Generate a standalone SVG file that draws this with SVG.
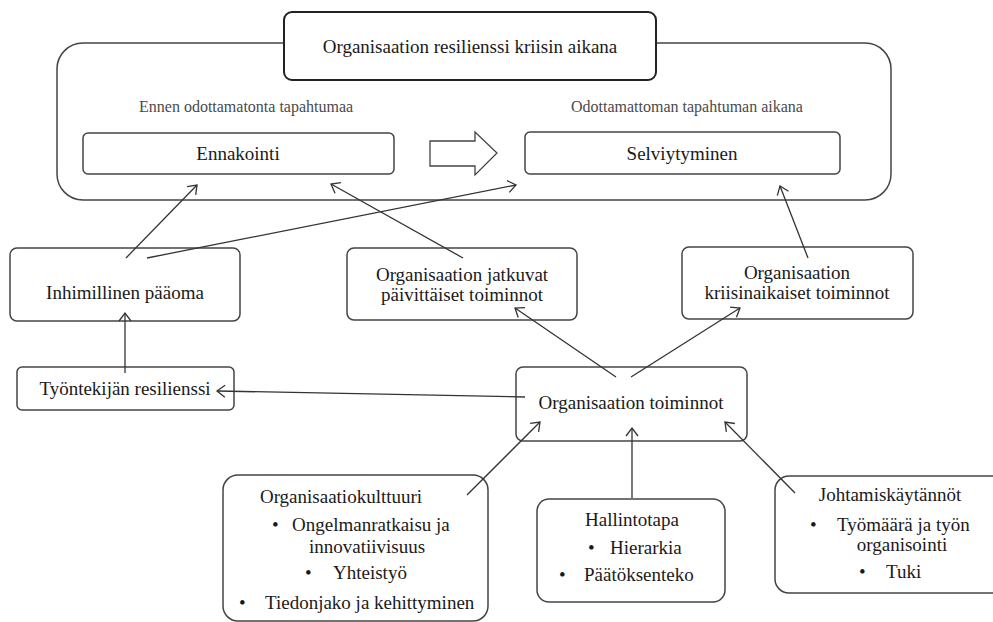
<svg xmlns="http://www.w3.org/2000/svg" width="993" height="622" viewBox="0 0 993 622">
<defs>
<style>
.box{fill:#fff;stroke:#444;stroke-width:1.5}
.t{font-family:'Liberation Serif','Times New Roman',serif;font-size:19px;fill:#1a1a1a;text-anchor:middle}
.s{font-family:'Liberation Serif','Times New Roman',serif;font-size:16px;fill:#4a4a4a}
.b{font-family:'Liberation Serif','Times New Roman',serif;font-size:19px;fill:#1a1a1a}
.c{fill:none;stroke:#333;stroke-width:1.3;marker-end:url(#ah)}
</style>
<marker id="ah" viewBox="0 0 12 14" refX="10" refY="7" markerWidth="12" markerHeight="14" markerUnits="userSpaceOnUse" orient="auto">
<path d="M2,1 L10,7 L2,13" fill="none" stroke="#333" stroke-width="1.3"/>
</marker>
</defs>
<rect width="993" height="622" fill="#fff"/>
<g id="frame">
<rect class="box" x="57" y="43" width="834" height="157" rx="26"/>
</g>
<g id="title">
<rect x="284" y="12" width="372" height="68" rx="8" fill="#fff" stroke="#222" stroke-width="2"/>
<text class="t" x="470" y="53">Organisaation resilienssi kriisin aikana</text>
</g>
<g id="labels">
<text class="s" x="139" y="112">Ennen odottamatonta tapahtumaa</text>
<text class="s" x="571" y="112">Odottamattoman tapahtuman aikana</text>
</g>
<g id="ennakointi">
<rect class="box" x="83" y="133" width="311" height="41" rx="5"/>
<text class="t" x="238" y="160">Ennakointi</text>
</g>
<g id="blockarrow">
<polygon points="430,141 475,141 475,132 497,153 475,175 475,166 430,166" fill="#fff" stroke="#444" stroke-width="1.3"/>
</g>
<g id="selviytyminen">
<rect class="box" x="525" y="132" width="315" height="42" rx="5"/>
<text class="t" x="682" y="160">Selviytyminen</text>
</g>
<g id="inhimillinen">
<rect class="box" x="10" y="248" width="230" height="73" rx="7"/>
<text class="t" x="125" y="299">Inhimillinen pääoma</text>
</g>
<g id="jatkuvat">
<rect class="box" x="347" y="248" width="230" height="72" rx="7"/>
<text class="t" x="462" y="281">Organisaation jatkuvat</text>
<text class="t" x="462" y="301">päivittäiset toiminnot</text>
</g>
<g id="kriisinaikaiset">
<rect class="box" x="682" y="247" width="231" height="72" rx="7"/>
<text class="t" x="797" y="279">Organisaation</text>
<text class="t" x="797" y="299">kriisinaikaiset toiminnot</text>
</g>
<g id="tyontekija">
<rect class="box" x="17" y="367" width="217" height="43" rx="5"/>
<text class="t" x="125" y="395">Työntekijän resilienssi</text>
</g>
<g id="toiminnot">
<rect class="box" x="516" y="367" width="231" height="74" rx="7"/>
<text class="t" x="631" y="409">Organisaation toiminnot</text>
</g>
<g id="kulttuuri">
<rect class="box" x="223" y="475" width="265" height="146" rx="15"/>
<text class="t" x="341" y="503">Organisaatiokulttuuri</text>
<text class="b" x="272" y="531">•</text>
<text class="b" x="292" y="531">Ongelmanratkaisu ja</text>
<text class="t" x="367" y="553">innovatiivisuus</text>
<text class="b" x="305" y="579">•</text>
<text class="b" x="333" y="579">Yhteistyö</text>
<text class="b" x="239" y="609">•</text>
<text class="b" x="265" y="609">Tiedonjako ja kehittyminen</text>
</g>
<g id="hallintotapa">
<rect class="box" x="537" y="499" width="188" height="103" rx="12"/>
<text class="t" x="632" y="526">Hallintotapa</text>
<text class="b" x="588" y="554">•</text>
<text class="b" x="610" y="554">Hierarkia</text>
<text class="b" x="559" y="581">•</text>
<text class="b" x="584" y="581">Päätöksenteko</text>
</g>
<g id="johtaminen">
<rect class="box" x="775" y="476" width="240" height="117" rx="14"/>
<text class="t" x="890" y="501">Johtamiskäytännöt</text>
<text class="b" x="810" y="531">•</text>
<text class="b" x="837" y="531">Työmäärä ja työn</text>
<text class="t" x="902" y="551">organisointi</text>
<text class="b" x="859" y="578">•</text>
<text class="b" x="886" y="578">Tuki</text>
</g>
<g id="connectors">
<line class="c" x1="126" y1="258" x2="197" y2="185"/>
<line class="c" x1="147" y1="258" x2="516" y2="185"/>
<line class="c" x1="463" y1="258" x2="331" y2="184"/>
<line class="c" x1="808" y1="258" x2="780" y2="186"/>
<line class="c" x1="125" y1="373" x2="125" y2="313"/>
<line class="c" x1="525" y1="397" x2="217" y2="391"/>
<line class="c" x1="616" y1="377" x2="515" y2="308"/>
<line class="c" x1="631" y1="377" x2="740" y2="308"/>
<line class="c" x1="467" y1="495" x2="540" y2="422"/>
<line class="c" x1="632" y1="498" x2="632" y2="428"/>
<line class="c" x1="795" y1="493" x2="725" y2="422"/>
</g>
</svg>
